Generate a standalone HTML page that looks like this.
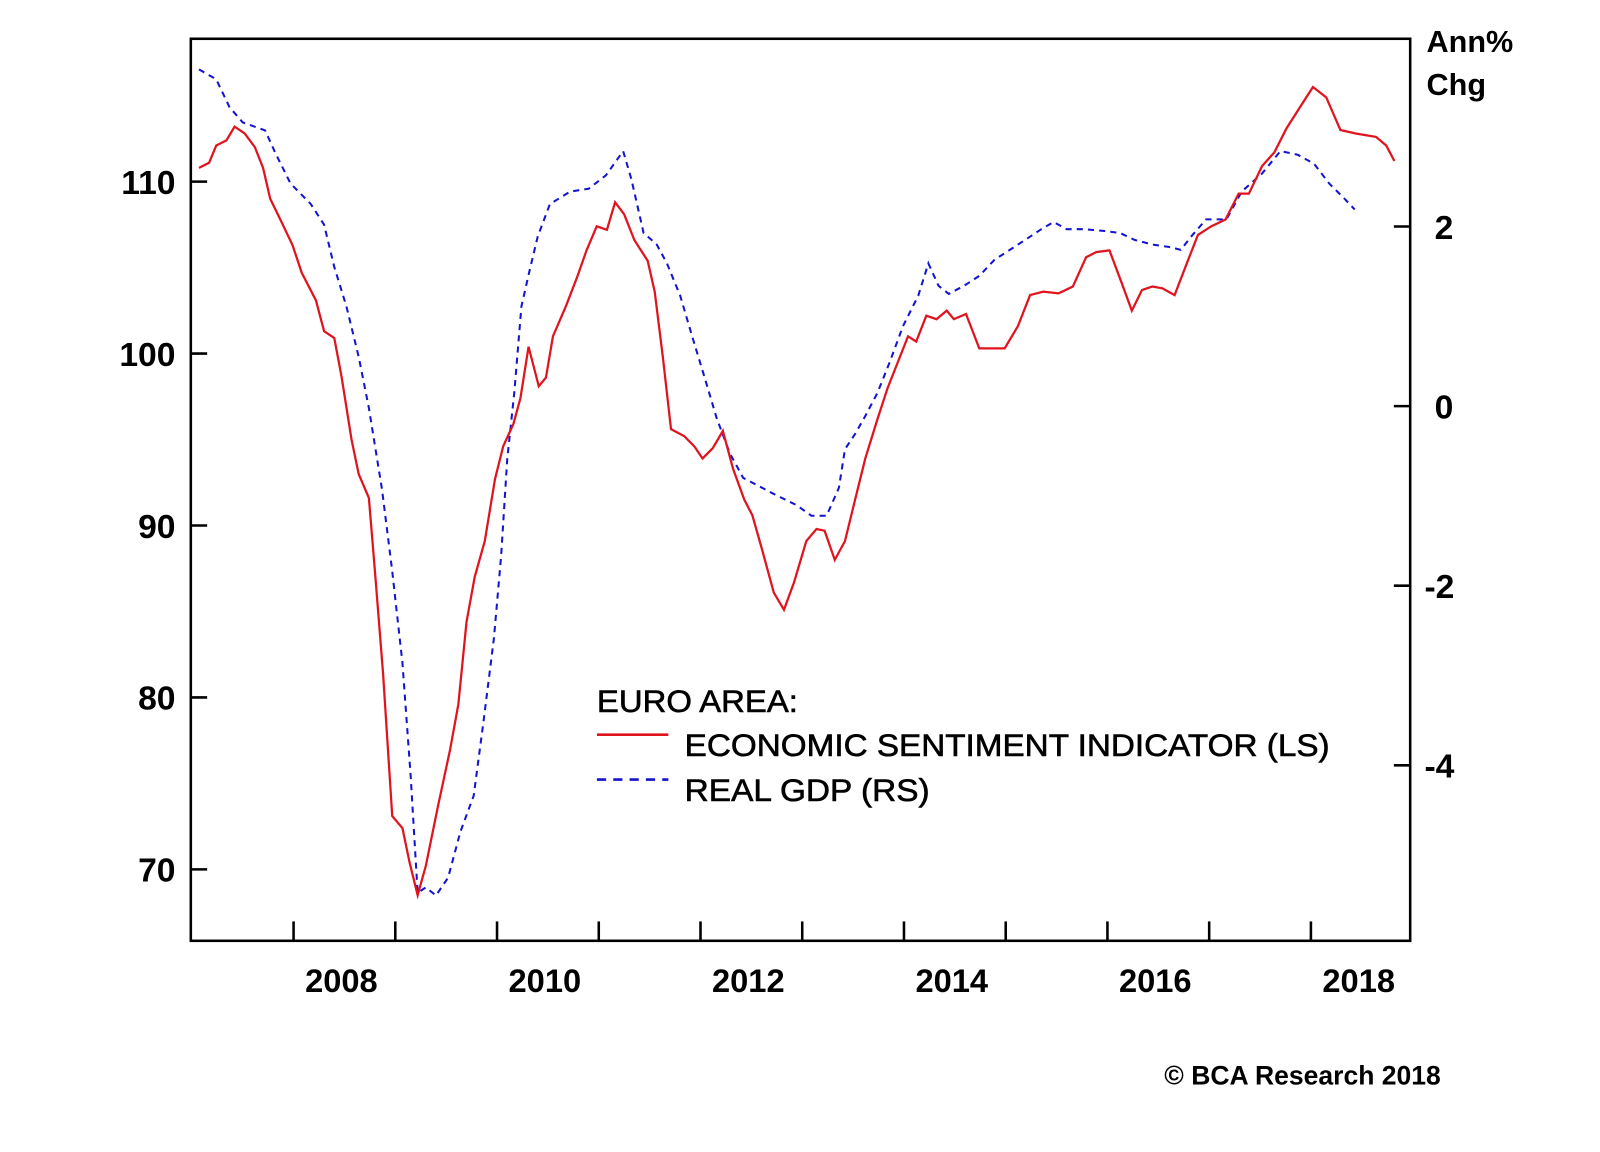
<!DOCTYPE html>
<html><head><meta charset="utf-8"><style>
html,body{margin:0;padding:0;background:#fff}
svg{display:block;font-family:"Liberation Sans",sans-serif}
</style></head><body>
<svg id="chart" width="1600" height="1152" viewBox="0 0 1600 1152" xmlns="http://www.w3.org/2000/svg">
<rect width="1600" height="1152" fill="#fff"/>
<g transform="scale(1.0204)">
<g id="grid"></g>
<g id="series"></g>
<rect x="187" y="38" width="1195" height="884" fill="none" stroke="#000" stroke-width="2.5"/>
<text x="1398" y="51" font-size="30" font-weight="bold">Ann%</text>
<text x="1398" y="93" font-size="30" font-weight="bold">Chg</text>
<g>
<text x="585" y="698" font-size="31" textLength="197" lengthAdjust="spacingAndGlyphs" stroke="#000" stroke-width="0.6">EURO AREA:</text>
<line x1="585" y1="720" x2="655" y2="720" stroke="#e0141e" stroke-width="2.5"/>
<text x="671" y="741" font-size="31" textLength="632" lengthAdjust="spacingAndGlyphs" stroke="#000" stroke-width="0.6">ECONOMIC SENTIMENT INDICATOR (LS)</text>
<line x1="585" y1="764" x2="655" y2="764" stroke="#1414d0" stroke-width="2.5" stroke-dasharray="9,7"/>
<text x="671" y="785" font-size="31" textLength="240" lengthAdjust="spacingAndGlyphs" stroke="#000" stroke-width="0.6">REAL GDP (RS)</text>
</g>
<text x="1412" y="1063" font-size="26" font-weight="bold" text-anchor="end">© BCA Research 2018</text>
</g>
</svg>
<script>
const esiYears=[2007.07,2007.17,2007.24,2007.34,2007.42,2007.52,2007.62,2007.70,2007.77,2007.87,2007.99,2008.08,2008.22,2008.30,2008.40,2008.47,2008.57,2008.64,2008.74,2008.80,2008.88,2008.97,2009.07,2009.14,2009.22,2009.30,2009.42,2009.54,2009.62,2009.70,2009.78,2009.88,2009.98,2010.06,2010.16,2010.23,2010.31,2010.41,2010.48,2010.55,2010.68,2010.79,2010.88,2010.98,2011.08,2011.16,2011.25,2011.35,2011.48,2011.55,2011.63,2011.71,2011.84,2011.94,2012.02,2012.12,2012.22,2012.32,2012.43,2012.51,2012.61,2012.72,2012.82,2012.92,2013.04,2013.14,2013.22,2013.32,2013.42,2013.52,2013.62,2013.74,2013.84,2013.94,2014.04,2014.12,2014.22,2014.32,2014.42,2014.49,2014.61,2014.74,2014.87,2014.99,2015.12,2015.24,2015.37,2015.52,2015.66,2015.79,2015.89,2016.02,2016.14,2016.24,2016.34,2016.44,2016.54,2016.66,2016.79,2016.89,2017.02,2017.16,2017.29,2017.39,2017.52,2017.64,2017.76,2017.89,2018.02,2018.15,2018.29,2018.44,2018.64,2018.74,2018.82];
const esiValues=[110.8,111.1,112.1,112.4,113.2,112.8,112.0,110.8,109.0,107.8,106.3,104.7,103.1,101.3,100.9,98.7,95.0,93.0,91.6,87.3,81.4,73.1,72.4,70.4,68.5,70.2,73.7,77.0,79.6,84.4,87.0,89.1,92.7,94.6,95.9,97.4,100.4,98.1,98.6,101.0,102.8,104.5,106.0,107.4,107.2,108.8,108.1,106.6,105.4,103.6,99.8,95.6,95.2,94.6,93.9,94.5,95.5,93.3,91.5,90.6,88.5,86.1,85.1,86.7,89.1,89.8,89.7,88.0,89.1,91.5,93.9,96.2,98.0,99.5,101.0,100.7,102.2,102.0,102.5,102.0,102.3,100.3,100.3,100.3,101.6,103.4,103.6,103.5,103.9,105.6,105.9,106.0,104.1,102.5,103.7,103.9,103.8,103.4,105.4,106.9,107.4,107.8,109.3,109.3,110.9,111.7,113.1,114.3,115.5,114.9,113.0,112.8,112.6,112.1,111.2];
const gdpYears=[2007.07,2007.24,2007.37,2007.50,2007.72,2007.82,2007.97,2008.17,2008.30,2008.40,2008.52,2008.64,2008.74,2008.87,2008.97,2009.07,2009.15,2009.22,2009.30,2009.40,2009.52,2009.64,2009.77,2009.87,2009.97,2010.04,2010.10,2010.17,2010.24,2010.32,2010.40,2010.52,2010.72,2010.90,2011.07,2011.24,2011.32,2011.44,2011.57,2011.67,2011.80,2011.92,2012.04,2012.16,2012.29,2012.42,2012.59,2012.74,2012.94,2013.09,2013.24,2013.36,2013.42,2013.52,2013.62,2013.74,2013.86,2013.99,2014.14,2014.24,2014.34,2014.44,2014.59,2014.74,2014.89,2015.04,2015.19,2015.35,2015.47,2015.60,2015.77,2015.97,2016.12,2016.27,2016.44,2016.62,2016.72,2016.84,2016.97,2017.17,2017.32,2017.52,2017.70,2017.87,2018.03,2018.18,2018.33,2018.43];
const gdpValues=[3.75,3.64,3.33,3.16,3.07,2.82,2.48,2.25,2.02,1.55,1.11,0.55,-0.02,-0.93,-1.84,-2.86,-4.11,-5.42,-5.36,-5.45,-5.25,-4.74,-4.34,-3.49,-2.58,-1.67,-0.59,0.15,1.11,1.51,1.89,2.25,2.39,2.42,2.57,2.84,2.53,1.93,1.80,1.59,1.23,0.77,0.32,-0.14,-0.53,-0.80,-0.90,-0.99,-1.10,-1.22,-1.22,-0.91,-0.48,-0.31,-0.11,0.15,0.49,0.89,1.23,1.59,1.34,1.25,1.34,1.45,1.63,1.74,1.85,1.97,2.05,1.97,1.97,1.95,1.93,1.85,1.80,1.77,1.74,1.91,2.08,2.08,2.39,2.59,2.84,2.80,2.70,2.48,2.31,2.19];
const leftTicks=[70,80,90,100,110];
const rightTicks=[-4,-2,0,2];
const yearTicks=[2008,2009,2010,2011,2012,2013,2014,2015,2016,2017,2018];
const yearLabels=[2008,2010,2012,2014,2016,2018];

const NS='http://www.w3.org/2000/svg';
const X=y=>188+(y-2007)*99.7;
const YL=v=>178+(110-v)*16.85;
const YR=v=>398-v*88;
function mk(tag,attrs,parent,txt){const e=document.createElementNS(NS,tag);for(const k in attrs)e.setAttribute(k,attrs[k]);if(txt!==undefined)e.textContent=txt;parent.appendChild(e);return e;}
const g=document.getElementById('grid'), s=document.getElementById('series');
leftTicks.forEach(v=>{
  const l=mk('line',{x1:187,x2:203,y1:YL(v),y2:YL(v),stroke:'#000','stroke-width':2.5},g);
  
  
  const t=mk('text',{x:172,y:YL(v)+12,'font-size':33,'font-weight':'bold','text-anchor':'end'},g,String(v));
  
  
});
rightTicks.forEach(v=>{
  const l=mk('line',{x1:1366,x2:1382,y1:YR(v),y2:YR(v),stroke:'#000','stroke-width':2.5},g);
  
  
  const t=mk('text',{x:v<0?1396:1406,y:YR(v)+12,'font-size':33,'font-weight':'bold'},g,String(v));
  
  
});
yearTicks.forEach(y=>{
  const l=mk('line',{x1:X(y),x2:X(y),y1:903,y2:922,stroke:'#000','stroke-width':2.5},g);
  
  
});
yearLabels.forEach(y=>{
  const t=mk('text',{x:X(y+0.47),y:972,'font-size':32,'font-weight':'bold','text-anchor':'middle'},g,String(y));
  
  
});
const gp=mk('polyline',{points:gdpYears.map((y,i)=>X(y).toFixed(1)+','+YR(gdpValues[i]).toFixed(1)).join(' '),fill:'none',stroke:'#1414d0','stroke-width':2,'stroke-dasharray':'6,5'},s);


const ep=mk('polyline',{points:esiYears.map((y,i)=>X(y).toFixed(1)+','+YL(esiValues[i]).toFixed(1)).join(' '),fill:'none',stroke:'#e0141e','stroke-width':2.2},s);


</script>
</body></html>
